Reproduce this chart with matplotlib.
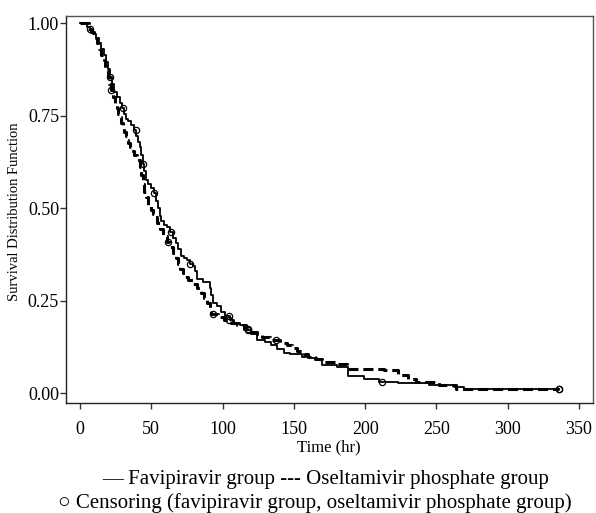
import numpy as np
import matplotlib
matplotlib.use("Agg")
import matplotlib.pyplot as plt

# Kaplan-Meier estimates (time in hours, survival after each step)
fav_time = [0, 5, 7, 9, 11, 13, 15, 16.5, 18, 19.5, 21, 22.5, 24, 26, 28,
            29.5, 31, 32.5, 34, 36, 38, 39.5, 41, 42, 43, 44, 45, 46, 48, 50,
            52, 53.5, 55, 56, 57, 59, 61, 63, 65, 67, 69, 71, 73, 75, 77, 79,
            81, 82, 86, 91, 92, 93.5, 96, 99, 102, 105, 108, 112, 117, 120,
            124, 130, 134, 138, 143, 147, 156, 162, 166, 170, 180, 188, 199,
            210, 223, 245, 262, 269, 336]
fav_surv = [1.00, 0.99, 0.98, 0.97, 0.96, 0.945, 0.93, 0.915, 0.895, 0.875,
            0.855, 0.835, 0.815, 0.80, 0.785, 0.77, 0.755, 0.74, 0.735, 0.725,
            0.71, 0.695, 0.68, 0.665, 0.645, 0.62, 0.60, 0.575, 0.565, 0.555,
            0.54, 0.52, 0.50, 0.48, 0.465, 0.455, 0.45, 0.435, 0.42, 0.405,
            0.39, 0.37, 0.365, 0.36, 0.35, 0.345, 0.33, 0.31, 0.30, 0.285,
            0.265, 0.245, 0.235, 0.22, 0.21, 0.198, 0.19, 0.185, 0.17, 0.16,
            0.145, 0.14, 0.13, 0.12, 0.11, 0.105, 0.098, 0.095, 0.09, 0.076,
            0.072, 0.046, 0.04, 0.031, 0.027, 0.022, 0.018, 0.011, 0.011]

ose_time = [0, 6, 8, 10, 12, 13.5, 15, 16.5, 17.5, 18.5, 19.5, 20.5, 21.5, 23,
            24.5, 26, 27, 28, 29, 30, 31, 32, 33, 34, 35, 36, 38, 40, 42, 43,
            44, 45, 46.5, 48, 49.5, 51, 52.5, 54, 56, 58, 61, 63, 65, 67, 68.5,
            70, 72, 74, 76, 79, 82, 85, 87, 89, 91, 92, 97, 101, 106, 110, 115,
            119, 124, 128, 133, 140, 145, 149, 152, 157, 160, 165, 170, 179,
            187, 213, 223, 230, 236, 252, 264, 336]
ose_surv = [1.00, 0.985, 0.975, 0.96, 0.945, 0.93, 0.915, 0.90, 0.885, 0.87,
            0.855, 0.835, 0.82, 0.80, 0.785, 0.77, 0.755, 0.745, 0.73, 0.72,
            0.705, 0.695, 0.685, 0.675, 0.665, 0.655, 0.645, 0.63, 0.612, 0.59,
            0.565, 0.545, 0.53, 0.51, 0.495, 0.485, 0.475, 0.46, 0.445, 0.425,
            0.41, 0.395, 0.38, 0.365, 0.35, 0.335, 0.325, 0.315, 0.305, 0.295,
            0.285, 0.27, 0.258, 0.245, 0.23, 0.215, 0.205, 0.198, 0.19, 0.184,
            0.175, 0.166, 0.16, 0.152, 0.144, 0.137, 0.13, 0.122, 0.115, 0.105,
            0.099, 0.092, 0.085, 0.08, 0.067, 0.063, 0.05, 0.04, 0.031, 0.022,
            0.011, 0.011]

# censored observations
fav_cens = [21, 30, 39, 44.5, 52, 63.6, 77.5, 104.5, 118, 211.6, 336]
ose_cens = [7, 21.7, 62, 93.5, 104.5, 118, 137.5, 336]

x_ticks = [0, 50, 100, 150, 200, 250, 300, 350]
y_ticks = [0.00, 0.25, 0.50, 0.75, 1.00]

serif = ["Liberation Serif", "DejaVu Serif"]


def surv_at(times, surv, t):
    idx = np.searchsorted(times, t, side="right") - 1
    return np.asarray(surv)[idx]


fig = plt.figure(figsize=(5.96, 5.13), dpi=100)
ax = fig.add_axes([66 / 596, 110 / 513, 527 / 596, 387 / 513])

ax.step(fav_time, fav_surv, where="post", color="black", lw=1.3)
ax.step(ose_time, ose_surv, where="post", color="black", lw=2.2,
        linestyle=(0, (3.3, 1.6)))

for times, surv, cens in [(fav_time, fav_surv, fav_cens),
                          (ose_time, ose_surv, ose_cens)]:
    ax.plot(cens, surv_at(times, surv, cens), linestyle="none", marker="o",
            markersize=4.5, markerfacecolor="none", markeredgecolor="black",
            markeredgewidth=0.9)

ax.set_xlim(-9.8, 359.8)
ax.set_ylim(-0.026, 1.019)
ax.set_xticks(x_ticks)
ax.set_yticks(y_ticks)
ax.set_xticklabels([str(v) for v in x_ticks], family=serif, fontsize=13)
ax.set_yticklabels(["%.2f" % v for v in y_ticks], family=serif, fontsize=13)
ax.tick_params(direction="out", length=4, width=1, color="#333333")
ax.tick_params(axis="x", pad=9)
ax.tick_params(axis="y", pad=1)

for side in ["left", "bottom"]:
    ax.spines[side].set_color("#222222")
for side in ["top", "right"]:
    ax.spines[side].set_color("#555555")
for sp in ax.spines.values():
    sp.set_linewidth(1.0)

fig.text(15 / 596, 1 - 212 / 513, "Survival Distribution Function",
         rotation=90, ha="center", va="center", family=serif, fontsize=10.5)
fig.text(329 / 596, 1 - 447 / 513, "Time (hr)", ha="center", va="center",
         family=serif, fontsize=12)

fig.text(326 / 596, 1 - 484 / 513,
         "\u2014 Favipiravir group --- Oseltamivir phosphate group",
         ha="center", va="baseline", family=serif, fontsize=15)
fig.text(315 / 596, 1 - 508 / 513,
         "\u25cb Censoring (favipiravir group, oseltamivir phosphate group)",
         ha="center", va="baseline", family=serif, fontsize=15)

fig.savefig("out.png", dpi=100)
